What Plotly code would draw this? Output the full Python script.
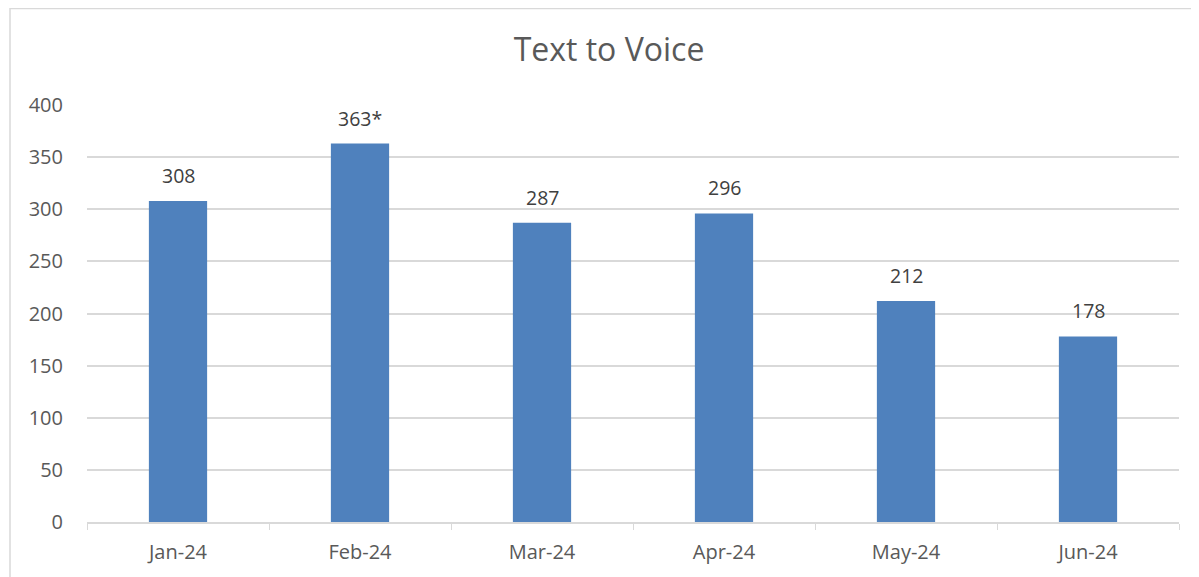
import plotly.graph_objects as go

months = ["Jan-24", "Feb-24", "Mar-24", "Apr-24", "May-24", "Jun-24"]
values = [308, 363, 287, 296, 212, 178]
labels = ["308", "363*", "287", "296", "212", "178"]
y_ticks = [0, 50, 100, 150, 200, 250, 300, 350, 400]

FONT = "Open Sans, sans-serif"
TXT = "#595959"
GRID = "#D9D9D9"

fig = go.Figure()
fig.add_trace(go.Bar(x=months, y=values, marker=dict(color="#4F81BD", line=dict(width=0)),
                     width=0.32, hoverinfo="x+y"))

for m, v, t in zip(months, values, labels):
    fig.add_annotation(x=m, y=v, text=t, showarrow=False, yanchor="bottom", yshift=10,
                       font=dict(family=FONT, size=19.5, color="#404040"))

# page body has an 8px margin; margins compensate so the plot area lands at the reference position
fig.update_layout(
    width=1199, height=577,
    paper_bgcolor="white", plot_bgcolor="white",
    margin=dict(l=79, r=28, t=97, b=63),
    title=dict(text="Text to Voice", x=601 / 1199, xanchor="center", y=1 - 42 / 577, yanchor="middle",
               font=dict(family=FONT, size=32, color=TXT)),
    showlegend=False,
)
fig.update_xaxes(showline=True, linecolor=GRID, linewidth=1.5, ticks="outside", tickson="boundaries",
                 ticklen=6, tickcolor=GRID, showgrid=False,
                 tickfont=dict(family=FONT, size=20, color=TXT), ticklabelstandoff=11)
fig.update_yaxes(range=[0, 400], tickvals=y_ticks, showgrid=True, gridcolor=GRID, gridwidth=1.5,
                 zeroline=False, showline=False, ticks="",
                 tickfont=dict(family=FONT, size=20, color=TXT), ticklabelstandoff=23)

fig.add_shape(type="rect", xref="paper", yref="paper", x0=-77 / 1092, x1=1.2, y0=-0.3, y1=1 + 96.5 / 417,
              line=dict(color="#D9D9D9", width=1.5), fillcolor="rgba(0,0,0,0)", layer="below")

fig.write_html("out.html")
